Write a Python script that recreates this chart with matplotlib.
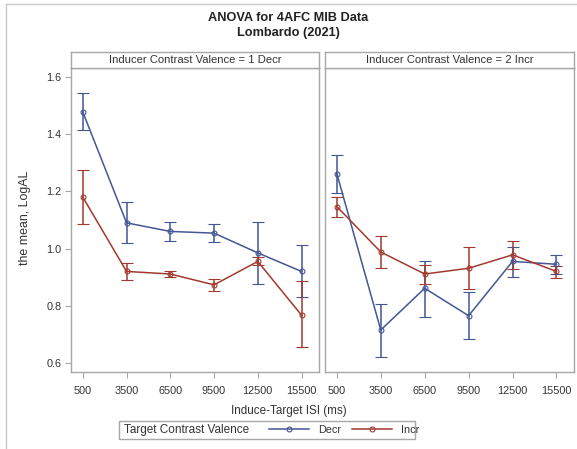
import matplotlib
matplotlib.use('Agg')
import matplotlib.pyplot as plt
from matplotlib.lines import Line2D
from matplotlib.patches import Rectangle

plt.rcParams['font.family'] = ['Liberation Sans', 'DejaVu Sans']

isi_labels = ['500', '3500', '6500', '9500', '12500', '15500']
panel_titles = ['Inducer Contrast Valence = 1 Decr', 'Inducer Contrast Valence = 2 Incr']

# inducer = 1 Decr
p1_decr_mean = [1.478, 1.090, 1.060, 1.054, 0.985, 0.920]
p1_decr_lo = [1.414, 1.018, 1.026, 1.022, 0.876, 0.829]
p1_decr_hi = [1.543, 1.164, 1.092, 1.087, 1.094, 1.011]
p1_incr_mean = [1.180, 0.920, 0.911, 0.873, 0.955, 0.767]
p1_incr_lo = [1.087, 0.891, 0.901, 0.850, 0.943, 0.654]
p1_incr_hi = [1.275, 0.950, 0.923, 0.895, 0.969, 0.885]

# inducer = 2 Incr
p2_decr_mean = [1.262, 0.715, 0.861, 0.765, 0.955, 0.945]
p2_decr_lo = [1.195, 0.621, 0.760, 0.683, 0.901, 0.911]
p2_decr_hi = [1.329, 0.805, 0.958, 0.847, 1.007, 0.979]
p2_incr_mean = [1.147, 0.988, 0.911, 0.931, 0.978, 0.920]
p2_incr_lo = [1.111, 0.932, 0.876, 0.857, 0.929, 0.897]
p2_incr_hi = [1.181, 1.043, 0.944, 1.005, 1.027, 0.938]

blue = '#445694'
red = '#A23A2E'
frame_col = '#A8A8A8'
text_col = '#333333'

panels = [
    (p1_decr_mean, p1_decr_lo, p1_decr_hi, p1_incr_mean, p1_incr_lo, p1_incr_hi),
    (p2_decr_mean, p2_decr_lo, p2_decr_hi, p2_incr_mean, p2_incr_lo, p2_incr_hi),
]

W, H = 577, 449
fig = plt.figure(figsize=(W / 100, H / 100), dpi=100)


def fx(px):
    return px / W


def fy(py):
    return 1 - py / H


lefts = [71, 325]
rights = [319, 574]
top, strip_top, bottom = 68, 52, 372

x = list(range(len(isi_labels)))

for i, data in enumerate(panels):
    ax = fig.add_axes([fx(lefts[i]), fy(bottom), fx(rights[i] - lefts[i]), (bottom - top) / H])
    dm, dl, dh, im, il, ih = data
    for mean, lo, hi, col in [(dm, dl, dh, blue), (im, il, ih, red)]:
        yerr = [[m - l for m, l in zip(mean, lo)], [h - m for m, h in zip(mean, hi)]]
        ax.errorbar(x, mean, yerr=yerr, color=col, lw=1.1, elinewidth=1.1,
                    capsize=4.5, capthick=1.1, marker='o', ms=3.5, mfc='none', mew=0.8)
    ax.set_xlim(-0.27, 5.4)
    ax.set_ylim(0.568, 1.632)
    ax.set_xticks(x)
    ax.set_xticklabels(isi_labels)
    ax.set_yticks([0.6, 0.8, 1.0, 1.2, 1.4, 1.6])
    ax.set_yticklabels(['0.6', '0.8', '1.0', '1.2', '1.4', '1.6'])
    ax.tick_params(axis='both', direction='out', length=4, width=0.8, color=frame_col,
                   labelsize=7.8, labelcolor=text_col, pad=3)
    ax.tick_params(axis='x', pad=6)
    if i == 1:
        ax.tick_params(axis='y', left=False, labelleft=False)
    for sp in ax.spines.values():
        sp.set_color(frame_col)
        sp.set_linewidth(1)

    sax = fig.add_axes([fx(lefts[i]), fy(top), fx(rights[i] - lefts[i]), (top - strip_top) / H])
    sax.set_xticks([])
    sax.set_yticks([])
    for sp in sax.spines.values():
        sp.set_color(frame_col)
        sp.set_linewidth(1)
    sax.text(0.5, 0.5, panel_titles[i], ha='center', va='center', fontsize=8.1,
             color=text_col, transform=sax.transAxes)

fig.text(0.5, fy(18), 'ANOVA for 4AFC MIB Data', ha='center', va='center',
         fontsize=9.2, fontweight='bold', color='#222222')
fig.text(0.5, fy(33), 'Lombardo (2021)', ha='center', va='center',
         fontsize=9.2, fontweight='bold', color='#222222')
fig.text(fx(25), fy(218), 'the mean, LogAL', rotation=90, ha='center', va='center',
         fontsize=8.9, color=text_col)
fig.text(0.5, fy(411), 'Induce-Target ISI (ms)', ha='center', va='center',
         fontsize=8.4, color=text_col)

# legend box
fig.add_artist(Rectangle((fx(119), fy(439)), fx(415 - 119), (439 - 421) / H,
                         transform=fig.transFigure, fill=False, edgecolor=frame_col, lw=1))
fig.text(fx(124), fy(430), 'Target Contrast Valence', ha='left', va='center',
         fontsize=8.5, color=text_col)
handles = [Line2D([], [], color=blue, lw=1.1, marker='o', ms=3.5, mfc='none', mew=0.8),
           Line2D([], [], color=red, lw=1.1, marker='o', ms=3.5, mfc='none', mew=0.8)]
fig.legend(handles, ['Decr', 'Incr'], ncol=2, frameon=False, loc='center',
           bbox_to_anchor=(fx(344), fy(430)), fontsize=7.8, handlelength=3.7,
           handletextpad=0.8, columnspacing=1.0, labelcolor=text_col,
           borderpad=0, borderaxespad=0)

# outer border of the original graph
fig.add_artist(Line2D([fx(6), 1], [fy(4), fy(4)], transform=fig.transFigure, color='#C8C8C8', lw=1))
fig.add_artist(Line2D([fx(6), fx(6)], [fy(4), 0], transform=fig.transFigure, color='#C8C8C8', lw=1))

fig.savefig('out.png', dpi=100)
